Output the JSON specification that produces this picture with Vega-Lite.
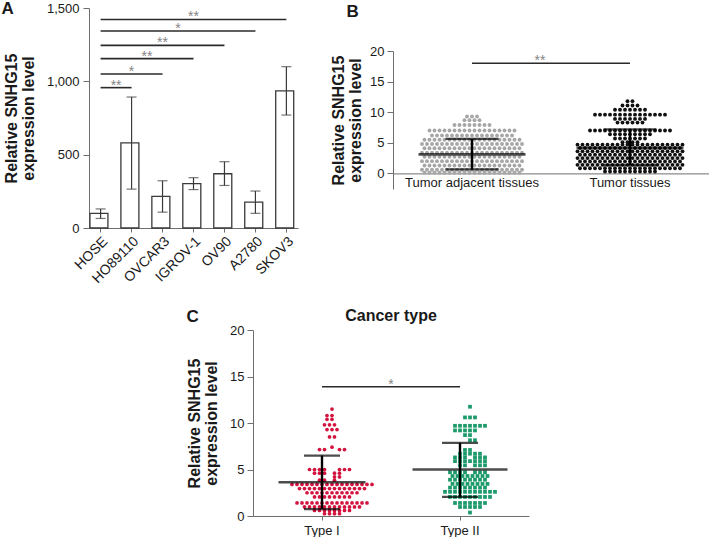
{
"$schema": "https://vega.github.io/schema/vega-lite/v6.json",
"background": "white",
"padding": {"left": 1, "top": 0, "right": 0, "bottom": 0},
"config": {
 "font": "Liberation Sans",
 "view": {"stroke": null},
 "axis": {"grid": false, "domainColor": "#6e6e6e", "tickColor": "#6e6e6e", "labelColor": "#1a1a1a", "labelFontSize": 13, "titleFontSize": 16, "titleFontWeight": "bold", "titleColor": "#1a1a1a", "tickSize": 6, "labelPadding": 3, "titleLineHeight": 17},
 "title": {"fontSize": 17, "fontWeight": "bold", "color": "#1a1a1a"}
},
"resolve": {"scale": {"color": "independent", "shape": "independent"}},
"datasets": {
 "bars": [
  {"c":"HOSE","m":100,"lo":65,"hi":130},
  {"c":"HO89110","m":580,"lo":265,"hi":893},
  {"c":"OVCAR3","m":215,"lo":108,"hi":322},
  {"c":"IGROV-1","m":303,"lo":262,"hi":343},
  {"c":"OV90","m":370,"lo":290,"hi":452},
  {"c":"A2780","m":177,"lo":100,"hi":252},
  {"c":"SKOV3","m":935,"lo":770,"hi":1100}
 ],
 "sigA": [
  {"a":"HOSE","b":"HO89110","y":957,"s":"**","m":"HOSE","h":1},
  {"a":"HOSE","b":"OVCAR3","y":1050,"s":"*","m":"HO89110","h":0},
  {"a":"HOSE","b":"IGROV-1","y":1155,"s":"**","m":"HO89110","h":1},
  {"a":"HOSE","b":"OV90","y":1245,"s":"**","m":"OVCAR3","h":0},
  {"a":"HOSE","b":"A2780","y":1343,"s":"*","m":"OVCAR3","h":1},
  {"a":"HOSE","b":"SKOV3","y":1422,"s":"**","m":"IGROV-1","h":0}
 ],
 "statB": [
  {"g":"n","m":3.1,"lo":0.65,"hi":5.65},
  {"g":"t","m":4.15,"lo":1.35,"hi":7.2}
 ],
 "sigB": [{"a":"n","b":"t","y":18,"s":"**"}],
 "statC": [
  {"g":"I","m":3.63,"lo":0.75,"hi":6.5},
  {"g":"II","m":5.0,"lo":2.05,"hi":7.87}
 ],
 "sigC": [{"a":"I","b":"II","y":13.9,"s":"*"}],
 "ptsB": [
  {"g":"n","y":9.3,"k":-1},{"g":"n","y":9.3,"k":0},{"g":"n","y":9.3,"k":1},
  {"g":"n","y":8.7,"k":-1.5},{"g":"n","y":8.7,"k":-0.5},{"g":"n","y":8.7,"k":0.5},{"g":"n","y":8.7,"k":1.5},
  {"g":"n","y":7.9,"k":-3.5},{"g":"n","y":7.9,"k":-2.5},{"g":"n","y":7.9,"k":-1.5},{"g":"n","y":7.9,"k":-0.5},{"g":"n","y":7.9,"k":0.5},{"g":"n","y":7.9,"k":1.5},{"g":"n","y":7.9,"k":2.5},{"g":"n","y":7.9,"k":3.5},
  {"g":"n","y":7.0,"k":-8.5},{"g":"n","y":7.0,"k":-7.5},{"g":"n","y":7.0,"k":-6.5},{"g":"n","y":7.0,"k":-5.5},{"g":"n","y":7.0,"k":-4.5},{"g":"n","y":7.0,"k":-3.5},{"g":"n","y":7.0,"k":-2.5},{"g":"n","y":7.0,"k":-1.5},{"g":"n","y":7.0,"k":-0.5},{"g":"n","y":7.0,"k":0.5},{"g":"n","y":7.0,"k":1.5},{"g":"n","y":7.0,"k":2.5},{"g":"n","y":7.0,"k":3.5},{"g":"n","y":7.0,"k":4.5},{"g":"n","y":7.0,"k":5.5},{"g":"n","y":7.0,"k":6.5},{"g":"n","y":7.0,"k":7.5},{"g":"n","y":7.0,"k":8.5},
  {"g":"n","y":6.2,"k":-8},{"g":"n","y":6.2,"k":-7},{"g":"n","y":6.2,"k":-6},{"g":"n","y":6.2,"k":-5},{"g":"n","y":6.2,"k":-4},{"g":"n","y":6.2,"k":-3},{"g":"n","y":6.2,"k":-2},{"g":"n","y":6.2,"k":-1},{"g":"n","y":6.2,"k":0},{"g":"n","y":6.2,"k":1},{"g":"n","y":6.2,"k":2},{"g":"n","y":6.2,"k":3},{"g":"n","y":6.2,"k":4},{"g":"n","y":6.2,"k":5},{"g":"n","y":6.2,"k":6},{"g":"n","y":6.2,"k":7},{"g":"n","y":6.2,"k":8},
  {"g":"n","y":5.5,"k":-9.5},{"g":"n","y":5.5,"k":-8.5},{"g":"n","y":5.5,"k":-7.5},{"g":"n","y":5.5,"k":-6.5},{"g":"n","y":5.5,"k":-5.5},{"g":"n","y":5.5,"k":-4.5},{"g":"n","y":5.5,"k":-3.5},{"g":"n","y":5.5,"k":-2.5},{"g":"n","y":5.5,"k":-1.5},{"g":"n","y":5.5,"k":-0.5},{"g":"n","y":5.5,"k":0.5},{"g":"n","y":5.5,"k":1.5},{"g":"n","y":5.5,"k":2.5},{"g":"n","y":5.5,"k":3.5},{"g":"n","y":5.5,"k":4.5},{"g":"n","y":5.5,"k":5.5},{"g":"n","y":5.5,"k":6.5},{"g":"n","y":5.5,"k":7.5},{"g":"n","y":5.5,"k":8.5},{"g":"n","y":5.5,"k":9.5},
  {"g":"n","y":4.8,"k":-10},{"g":"n","y":4.8,"k":-9},{"g":"n","y":4.8,"k":-8},{"g":"n","y":4.8,"k":-7},{"g":"n","y":4.8,"k":-6},{"g":"n","y":4.8,"k":-5},{"g":"n","y":4.8,"k":-4},{"g":"n","y":4.8,"k":-3},{"g":"n","y":4.8,"k":-2},{"g":"n","y":4.8,"k":-1},{"g":"n","y":4.8,"k":0},{"g":"n","y":4.8,"k":1},{"g":"n","y":4.8,"k":2},{"g":"n","y":4.8,"k":3},{"g":"n","y":4.8,"k":4},{"g":"n","y":4.8,"k":5},{"g":"n","y":4.8,"k":6},{"g":"n","y":4.8,"k":7},{"g":"n","y":4.8,"k":8},{"g":"n","y":4.8,"k":9},{"g":"n","y":4.8,"k":10},
  {"g":"n","y":4.1,"k":-9.5},{"g":"n","y":4.1,"k":-8.5},{"g":"n","y":4.1,"k":-7.5},{"g":"n","y":4.1,"k":-6.5},{"g":"n","y":4.1,"k":-5.5},{"g":"n","y":4.1,"k":-4.5},{"g":"n","y":4.1,"k":-3.5},{"g":"n","y":4.1,"k":-2.5},{"g":"n","y":4.1,"k":-1.5},{"g":"n","y":4.1,"k":-0.5},{"g":"n","y":4.1,"k":0.5},{"g":"n","y":4.1,"k":1.5},{"g":"n","y":4.1,"k":2.5},{"g":"n","y":4.1,"k":3.5},{"g":"n","y":4.1,"k":4.5},{"g":"n","y":4.1,"k":5.5},{"g":"n","y":4.1,"k":6.5},{"g":"n","y":4.1,"k":7.5},{"g":"n","y":4.1,"k":8.5},{"g":"n","y":4.1,"k":9.5},
  {"g":"n","y":3.4,"k":-10},{"g":"n","y":3.4,"k":-9},{"g":"n","y":3.4,"k":-8},{"g":"n","y":3.4,"k":-7},{"g":"n","y":3.4,"k":-6},{"g":"n","y":3.4,"k":-5},{"g":"n","y":3.4,"k":-4},{"g":"n","y":3.4,"k":-3},{"g":"n","y":3.4,"k":-2},{"g":"n","y":3.4,"k":-1},{"g":"n","y":3.4,"k":0},{"g":"n","y":3.4,"k":1},{"g":"n","y":3.4,"k":2},{"g":"n","y":3.4,"k":3},{"g":"n","y":3.4,"k":4},{"g":"n","y":3.4,"k":5},{"g":"n","y":3.4,"k":6},{"g":"n","y":3.4,"k":7},{"g":"n","y":3.4,"k":8},{"g":"n","y":3.4,"k":9},{"g":"n","y":3.4,"k":10},
  {"g":"n","y":2.7,"k":-9.5},{"g":"n","y":2.7,"k":-8.5},{"g":"n","y":2.7,"k":-7.5},{"g":"n","y":2.7,"k":-6.5},{"g":"n","y":2.7,"k":-5.5},{"g":"n","y":2.7,"k":-4.5},{"g":"n","y":2.7,"k":-3.5},{"g":"n","y":2.7,"k":-2.5},{"g":"n","y":2.7,"k":-1.5},{"g":"n","y":2.7,"k":-0.5},{"g":"n","y":2.7,"k":0.5},{"g":"n","y":2.7,"k":1.5},{"g":"n","y":2.7,"k":2.5},{"g":"n","y":2.7,"k":3.5},{"g":"n","y":2.7,"k":4.5},{"g":"n","y":2.7,"k":5.5},{"g":"n","y":2.7,"k":6.5},{"g":"n","y":2.7,"k":7.5},{"g":"n","y":2.7,"k":8.5},{"g":"n","y":2.7,"k":9.5},
  {"g":"n","y":2.0,"k":-10},{"g":"n","y":2.0,"k":-9},{"g":"n","y":2.0,"k":-8},{"g":"n","y":2.0,"k":-7},{"g":"n","y":2.0,"k":-6},{"g":"n","y":2.0,"k":-5},{"g":"n","y":2.0,"k":-4},{"g":"n","y":2.0,"k":-3},{"g":"n","y":2.0,"k":-2},{"g":"n","y":2.0,"k":-1},{"g":"n","y":2.0,"k":0},{"g":"n","y":2.0,"k":1},{"g":"n","y":2.0,"k":2},{"g":"n","y":2.0,"k":3},{"g":"n","y":2.0,"k":4},{"g":"n","y":2.0,"k":5},{"g":"n","y":2.0,"k":6},{"g":"n","y":2.0,"k":7},{"g":"n","y":2.0,"k":8},{"g":"n","y":2.0,"k":9},{"g":"n","y":2.0,"k":10},
  {"g":"n","y":1.3,"k":-9.5},{"g":"n","y":1.3,"k":-8.5},{"g":"n","y":1.3,"k":-7.5},{"g":"n","y":1.3,"k":-6.5},{"g":"n","y":1.3,"k":-5.5},{"g":"n","y":1.3,"k":-4.5},{"g":"n","y":1.3,"k":-3.5},{"g":"n","y":1.3,"k":-2.5},{"g":"n","y":1.3,"k":-1.5},{"g":"n","y":1.3,"k":-0.5},{"g":"n","y":1.3,"k":0.5},{"g":"n","y":1.3,"k":1.5},{"g":"n","y":1.3,"k":2.5},{"g":"n","y":1.3,"k":3.5},{"g":"n","y":1.3,"k":4.5},{"g":"n","y":1.3,"k":5.5},{"g":"n","y":1.3,"k":6.5},{"g":"n","y":1.3,"k":7.5},{"g":"n","y":1.3,"k":8.5},{"g":"n","y":1.3,"k":9.5},
  {"g":"n","y":0.6,"k":-10},{"g":"n","y":0.6,"k":-9},{"g":"n","y":0.6,"k":-8},{"g":"n","y":0.6,"k":-7},{"g":"n","y":0.6,"k":-6},{"g":"n","y":0.6,"k":-5},{"g":"n","y":0.6,"k":-4},{"g":"n","y":0.6,"k":-3},{"g":"n","y":0.6,"k":-2},{"g":"n","y":0.6,"k":-1},{"g":"n","y":0.6,"k":0},{"g":"n","y":0.6,"k":1},{"g":"n","y":0.6,"k":2},{"g":"n","y":0.6,"k":3},{"g":"n","y":0.6,"k":4},{"g":"n","y":0.6,"k":5},{"g":"n","y":0.6,"k":6},{"g":"n","y":0.6,"k":7},{"g":"n","y":0.6,"k":8},{"g":"n","y":0.6,"k":9},{"g":"n","y":0.6,"k":10},
  {"g":"n","y":0.1,"k":-9.5},{"g":"n","y":0.1,"k":-8.5},{"g":"n","y":0.1,"k":-7.5},{"g":"n","y":0.1,"k":-6.5},{"g":"n","y":0.1,"k":-5.5},{"g":"n","y":0.1,"k":-4.5},{"g":"n","y":0.1,"k":-3.5},{"g":"n","y":0.1,"k":-2.5},{"g":"n","y":0.1,"k":-1.5},{"g":"n","y":0.1,"k":-0.5},{"g":"n","y":0.1,"k":0.5},{"g":"n","y":0.1,"k":1.5},{"g":"n","y":0.1,"k":2.5},{"g":"n","y":0.1,"k":3.5},{"g":"n","y":0.1,"k":4.5},{"g":"n","y":0.1,"k":5.5},{"g":"n","y":0.1,"k":6.5},{"g":"n","y":0.1,"k":7.5},{"g":"n","y":0.1,"k":8.5},{"g":"n","y":0.1,"k":9.5},
  {"g":"t","y":11.8,"k":-0.5},{"g":"t","y":11.8,"k":0.5},
  {"g":"t","y":11.1,"k":-1.5},{"g":"t","y":11.1,"k":-0.5},{"g":"t","y":11.1,"k":0.5},{"g":"t","y":11.1,"k":1.5},
  {"g":"t","y":10.4,"k":-3},{"g":"t","y":10.4,"k":-2},{"g":"t","y":10.4,"k":-1},{"g":"t","y":10.4,"k":0},{"g":"t","y":10.4,"k":1},{"g":"t","y":10.4,"k":2},{"g":"t","y":10.4,"k":3},
  {"g":"t","y":9.6,"k":-7},{"g":"t","y":9.6,"k":-6},{"g":"t","y":9.6,"k":-5},{"g":"t","y":9.6,"k":-4},{"g":"t","y":9.6,"k":-3},{"g":"t","y":9.6,"k":-2},{"g":"t","y":9.6,"k":-1},{"g":"t","y":9.6,"k":0},{"g":"t","y":9.6,"k":1},{"g":"t","y":9.6,"k":2},{"g":"t","y":9.6,"k":3},{"g":"t","y":9.6,"k":4},{"g":"t","y":9.6,"k":5},{"g":"t","y":9.6,"k":6},{"g":"t","y":9.6,"k":7},
  {"g":"t","y":8.9,"k":-3},{"g":"t","y":8.9,"k":-2},{"g":"t","y":8.9,"k":-1},{"g":"t","y":8.9,"k":0},{"g":"t","y":8.9,"k":1},{"g":"t","y":8.9,"k":2},{"g":"t","y":8.9,"k":3},
  {"g":"t","y":8.3,"k":-2.5},{"g":"t","y":8.3,"k":-1.5},{"g":"t","y":8.3,"k":-0.5},{"g":"t","y":8.3,"k":0.5},{"g":"t","y":8.3,"k":1.5},{"g":"t","y":8.3,"k":2.5},
  {"g":"t","y":7.0,"k":-8},{"g":"t","y":7.0,"k":-7},{"g":"t","y":7.0,"k":-6},{"g":"t","y":7.0,"k":-5},{"g":"t","y":7.0,"k":-4},{"g":"t","y":7.0,"k":-3},{"g":"t","y":7.0,"k":-2},{"g":"t","y":7.0,"k":-1},{"g":"t","y":7.0,"k":0},{"g":"t","y":7.0,"k":1},{"g":"t","y":7.0,"k":2},{"g":"t","y":7.0,"k":3},{"g":"t","y":7.0,"k":4},{"g":"t","y":7.0,"k":5},{"g":"t","y":7.0,"k":6},{"g":"t","y":7.0,"k":7},{"g":"t","y":7.0,"k":8},
  {"g":"t","y":6.4,"k":-4},{"g":"t","y":6.4,"k":-3},{"g":"t","y":6.4,"k":-2},{"g":"t","y":6.4,"k":-1},{"g":"t","y":6.4,"k":0},{"g":"t","y":6.4,"k":1},{"g":"t","y":6.4,"k":2},{"g":"t","y":6.4,"k":3},{"g":"t","y":6.4,"k":4},
  {"g":"t","y":5.7,"k":-3},{"g":"t","y":5.7,"k":-2},{"g":"t","y":5.7,"k":-1},{"g":"t","y":5.7,"k":0},{"g":"t","y":5.7,"k":1},{"g":"t","y":5.7,"k":2},{"g":"t","y":5.7,"k":3},
  {"g":"t","y":5.1,"k":-1.5},{"g":"t","y":5.1,"k":-0.5},{"g":"t","y":5.1,"k":0.5},{"g":"t","y":5.1,"k":1.5},
  {"g":"t","y":4.7,"k":-10.5},{"g":"t","y":4.7,"k":-9.5},{"g":"t","y":4.7,"k":-8.5},{"g":"t","y":4.7,"k":-7.5},{"g":"t","y":4.7,"k":-6.5},{"g":"t","y":4.7,"k":-5.5},{"g":"t","y":4.7,"k":-4.5},{"g":"t","y":4.7,"k":-3.5},{"g":"t","y":4.7,"k":-2.5},{"g":"t","y":4.7,"k":-1.5},{"g":"t","y":4.7,"k":-0.5},{"g":"t","y":4.7,"k":0.5},{"g":"t","y":4.7,"k":1.5},{"g":"t","y":4.7,"k":2.5},{"g":"t","y":4.7,"k":3.5},{"g":"t","y":4.7,"k":4.5},{"g":"t","y":4.7,"k":5.5},{"g":"t","y":4.7,"k":6.5},{"g":"t","y":4.7,"k":7.5},{"g":"t","y":4.7,"k":8.5},{"g":"t","y":4.7,"k":9.5},{"g":"t","y":4.7,"k":10.5},
  {"g":"t","y":4.15,"k":-10},{"g":"t","y":4.15,"k":-9},{"g":"t","y":4.15,"k":-8},{"g":"t","y":4.15,"k":-7},{"g":"t","y":4.15,"k":-6},{"g":"t","y":4.15,"k":-5},{"g":"t","y":4.15,"k":-4},{"g":"t","y":4.15,"k":-3},{"g":"t","y":4.15,"k":-2},{"g":"t","y":4.15,"k":-1},{"g":"t","y":4.15,"k":0},{"g":"t","y":4.15,"k":1},{"g":"t","y":4.15,"k":2},{"g":"t","y":4.15,"k":3},{"g":"t","y":4.15,"k":4},{"g":"t","y":4.15,"k":5},{"g":"t","y":4.15,"k":6},{"g":"t","y":4.15,"k":7},{"g":"t","y":4.15,"k":8},{"g":"t","y":4.15,"k":9},{"g":"t","y":4.15,"k":10},
  {"g":"t","y":3.6,"k":-10.5},{"g":"t","y":3.6,"k":-9.5},{"g":"t","y":3.6,"k":-8.5},{"g":"t","y":3.6,"k":-7.5},{"g":"t","y":3.6,"k":-6.5},{"g":"t","y":3.6,"k":-5.5},{"g":"t","y":3.6,"k":-4.5},{"g":"t","y":3.6,"k":-3.5},{"g":"t","y":3.6,"k":-2.5},{"g":"t","y":3.6,"k":-1.5},{"g":"t","y":3.6,"k":-0.5},{"g":"t","y":3.6,"k":0.5},{"g":"t","y":3.6,"k":1.5},{"g":"t","y":3.6,"k":2.5},{"g":"t","y":3.6,"k":3.5},{"g":"t","y":3.6,"k":4.5},{"g":"t","y":3.6,"k":5.5},{"g":"t","y":3.6,"k":6.5},{"g":"t","y":3.6,"k":7.5},{"g":"t","y":3.6,"k":8.5},{"g":"t","y":3.6,"k":9.5},{"g":"t","y":3.6,"k":10.5},
  {"g":"t","y":3.05,"k":-10},{"g":"t","y":3.05,"k":-9},{"g":"t","y":3.05,"k":-8},{"g":"t","y":3.05,"k":-7},{"g":"t","y":3.05,"k":-6},{"g":"t","y":3.05,"k":-5},{"g":"t","y":3.05,"k":-4},{"g":"t","y":3.05,"k":-3},{"g":"t","y":3.05,"k":-2},{"g":"t","y":3.05,"k":-1},{"g":"t","y":3.05,"k":0},{"g":"t","y":3.05,"k":1},{"g":"t","y":3.05,"k":2},{"g":"t","y":3.05,"k":3},{"g":"t","y":3.05,"k":4},{"g":"t","y":3.05,"k":5},{"g":"t","y":3.05,"k":6},{"g":"t","y":3.05,"k":7},{"g":"t","y":3.05,"k":8},{"g":"t","y":3.05,"k":9},{"g":"t","y":3.05,"k":10},
  {"g":"t","y":2.5,"k":-10.5},{"g":"t","y":2.5,"k":-9.5},{"g":"t","y":2.5,"k":-8.5},{"g":"t","y":2.5,"k":-7.5},{"g":"t","y":2.5,"k":-6.5},{"g":"t","y":2.5,"k":-5.5},{"g":"t","y":2.5,"k":-4.5},{"g":"t","y":2.5,"k":-3.5},{"g":"t","y":2.5,"k":-2.5},{"g":"t","y":2.5,"k":-1.5},{"g":"t","y":2.5,"k":-0.5},{"g":"t","y":2.5,"k":0.5},{"g":"t","y":2.5,"k":1.5},{"g":"t","y":2.5,"k":2.5},{"g":"t","y":2.5,"k":3.5},{"g":"t","y":2.5,"k":4.5},{"g":"t","y":2.5,"k":5.5},{"g":"t","y":2.5,"k":6.5},{"g":"t","y":2.5,"k":7.5},{"g":"t","y":2.5,"k":8.5},{"g":"t","y":2.5,"k":9.5},{"g":"t","y":2.5,"k":10.5},
  {"g":"t","y":1.95,"k":-10},{"g":"t","y":1.95,"k":-9},{"g":"t","y":1.95,"k":-8},{"g":"t","y":1.95,"k":-7},{"g":"t","y":1.95,"k":-6},{"g":"t","y":1.95,"k":-5},{"g":"t","y":1.95,"k":-4},{"g":"t","y":1.95,"k":-3},{"g":"t","y":1.95,"k":-2},{"g":"t","y":1.95,"k":-1},{"g":"t","y":1.95,"k":0},{"g":"t","y":1.95,"k":1},{"g":"t","y":1.95,"k":2},{"g":"t","y":1.95,"k":3},{"g":"t","y":1.95,"k":4},{"g":"t","y":1.95,"k":5},{"g":"t","y":1.95,"k":6},{"g":"t","y":1.95,"k":7},{"g":"t","y":1.95,"k":8},{"g":"t","y":1.95,"k":9},{"g":"t","y":1.95,"k":10},
  {"g":"t","y":1.4,"k":-10.5},{"g":"t","y":1.4,"k":-9.5},{"g":"t","y":1.4,"k":-8.5},{"g":"t","y":1.4,"k":-7.5},{"g":"t","y":1.4,"k":-6.5},{"g":"t","y":1.4,"k":-5.5},{"g":"t","y":1.4,"k":-4.5},{"g":"t","y":1.4,"k":-3.5},{"g":"t","y":1.4,"k":-2.5},{"g":"t","y":1.4,"k":-1.5},{"g":"t","y":1.4,"k":-0.5},{"g":"t","y":1.4,"k":0.5},{"g":"t","y":1.4,"k":1.5},{"g":"t","y":1.4,"k":2.5},{"g":"t","y":1.4,"k":3.5},{"g":"t","y":1.4,"k":4.5},{"g":"t","y":1.4,"k":5.5},{"g":"t","y":1.4,"k":6.5},{"g":"t","y":1.4,"k":7.5},{"g":"t","y":1.4,"k":8.5},{"g":"t","y":1.4,"k":9.5},{"g":"t","y":1.4,"k":10.5},
  {"g":"t","y":0.85,"k":-10},{"g":"t","y":0.85,"k":-9},{"g":"t","y":0.85,"k":-8},{"g":"t","y":0.85,"k":-7},{"g":"t","y":0.85,"k":-6},{"g":"t","y":0.85,"k":-5},{"g":"t","y":0.85,"k":-4},{"g":"t","y":0.85,"k":-3},{"g":"t","y":0.85,"k":-2},{"g":"t","y":0.85,"k":-1},{"g":"t","y":0.85,"k":0},{"g":"t","y":0.85,"k":1},{"g":"t","y":0.85,"k":2},{"g":"t","y":0.85,"k":3},{"g":"t","y":0.85,"k":4},{"g":"t","y":0.85,"k":5},{"g":"t","y":0.85,"k":6},{"g":"t","y":0.85,"k":7},{"g":"t","y":0.85,"k":8},{"g":"t","y":0.85,"k":9},{"g":"t","y":0.85,"k":10},
  {"g":"t","y":0.3,"k":-5},{"g":"t","y":0.3,"k":-4},{"g":"t","y":0.3,"k":-3},{"g":"t","y":0.3,"k":-2},{"g":"t","y":0.3,"k":-1},{"g":"t","y":0.3,"k":0},{"g":"t","y":0.3,"k":1},{"g":"t","y":0.3,"k":2},{"g":"t","y":0.3,"k":3},{"g":"t","y":0.3,"k":4},{"g":"t","y":0.3,"k":5}
 ],
 "ptsC": [
  {"g":"I","y":11.5,"k":0},
  {"g":"I","y":10.8,"k":-1},{"g":"I","y":10.8,"k":0},
  {"g":"I","y":10.4,"k":-1},{"g":"I","y":10.4,"k":0},
  {"g":"I","y":9.8,"k":-1.5},{"g":"I","y":9.8,"k":-0.5},{"g":"I","y":9.8,"k":0.5},
  {"g":"I","y":9.3,"k":-1},{"g":"I","y":9.3,"k":0},{"g":"I","y":9.3,"k":1},
  {"g":"I","y":8.5,"k":-0.5},{"g":"I","y":8.5,"k":0.5},
  {"g":"I","y":7.4,"k":0},
  {"g":"I","y":7.15,"k":-2.5},{"g":"I","y":7.15,"k":-1.5},{"g":"I","y":7.15,"k":1.5},{"g":"I","y":7.15,"k":2.5},
  {"g":"I","y":5.0,"k":-4.5},{"g":"I","y":5.0,"k":-3.5},{"g":"I","y":5.0,"k":-2.5},{"g":"I","y":5.0,"k":-1.5},{"g":"I","y":5.0,"k":1.5},{"g":"I","y":5.0,"k":2.5},{"g":"I","y":5.0,"k":3.5},
  {"g":"I","y":4.6,"k":-3.5},{"g":"I","y":4.6,"k":-2.5},{"g":"I","y":4.6,"k":-1.5},{"g":"I","y":4.6,"k":0.5},{"g":"I","y":4.6,"k":1.5},
  {"g":"I","y":4.2,"k":0.5},{"g":"I","y":4.2,"k":1.5},
  {"g":"I","y":3.85,"k":-2.5},{"g":"I","y":3.85,"k":-1.5},{"g":"I","y":3.85,"k":0.5},
  {"g":"I","y":3.4,"k":-8},{"g":"I","y":3.4,"k":-7},{"g":"I","y":3.4,"k":-6},{"g":"I","y":3.4,"k":-5},{"g":"I","y":3.4,"k":-4},{"g":"I","y":3.4,"k":-3},{"g":"I","y":3.4,"k":-2},{"g":"I","y":3.4,"k":-1},{"g":"I","y":3.4,"k":0},{"g":"I","y":3.4,"k":1},{"g":"I","y":3.4,"k":2},{"g":"I","y":3.4,"k":3},{"g":"I","y":3.4,"k":4},{"g":"I","y":3.4,"k":5},{"g":"I","y":3.4,"k":6},{"g":"I","y":3.4,"k":7},{"g":"I","y":3.4,"k":8},
  {"g":"I","y":2.95,"k":-6.5},{"g":"I","y":2.95,"k":-5.5},{"g":"I","y":2.95,"k":-4.5},{"g":"I","y":2.95,"k":-3.5},{"g":"I","y":2.95,"k":-2.5},{"g":"I","y":2.95,"k":-1.5},{"g":"I","y":2.95,"k":-0.5},{"g":"I","y":2.95,"k":0.5},{"g":"I","y":2.95,"k":1.5},{"g":"I","y":2.95,"k":2.5},{"g":"I","y":2.95,"k":3.5},{"g":"I","y":2.95,"k":4.5},{"g":"I","y":2.95,"k":5.5},{"g":"I","y":2.95,"k":6.5},
  {"g":"I","y":2.5,"k":-5},{"g":"I","y":2.5,"k":-4},{"g":"I","y":2.5,"k":-3},{"g":"I","y":2.5,"k":-2},{"g":"I","y":2.5,"k":-1},{"g":"I","y":2.5,"k":0},{"g":"I","y":2.5,"k":1},{"g":"I","y":2.5,"k":2},{"g":"I","y":2.5,"k":3},{"g":"I","y":2.5,"k":4},{"g":"I","y":2.5,"k":5},
  {"g":"I","y":2.05,"k":-3.5},{"g":"I","y":2.05,"k":-2.5},{"g":"I","y":2.05,"k":-1.5},{"g":"I","y":2.05,"k":-0.5},{"g":"I","y":2.05,"k":0.5},{"g":"I","y":2.05,"k":1.5},{"g":"I","y":2.05,"k":2.5},{"g":"I","y":2.05,"k":3.5},
  {"g":"I","y":1.4,"k":-7},{"g":"I","y":1.4,"k":-6},{"g":"I","y":1.4,"k":-5},{"g":"I","y":1.4,"k":-4},{"g":"I","y":1.4,"k":-3},{"g":"I","y":1.4,"k":-2},{"g":"I","y":1.4,"k":-1},{"g":"I","y":1.4,"k":0},{"g":"I","y":1.4,"k":1},{"g":"I","y":1.4,"k":2},{"g":"I","y":1.4,"k":3},{"g":"I","y":1.4,"k":4},{"g":"I","y":1.4,"k":5},{"g":"I","y":1.4,"k":6},{"g":"I","y":1.4,"k":7},
  {"g":"I","y":0.97,"k":-5.5},{"g":"I","y":0.97,"k":-4.5},{"g":"I","y":0.97,"k":-3.5},{"g":"I","y":0.97,"k":-2.5},{"g":"I","y":0.97,"k":-1.5},{"g":"I","y":0.97,"k":-0.5},{"g":"I","y":0.97,"k":0.5},{"g":"I","y":0.97,"k":1.5},{"g":"I","y":0.97,"k":2.5},{"g":"I","y":0.97,"k":3.5},{"g":"I","y":0.97,"k":4.5},{"g":"I","y":0.97,"k":5.5},
  {"g":"I","y":0.6,"k":-3.5},{"g":"I","y":0.6,"k":-2.5},{"g":"I","y":0.6,"k":-1.5},{"g":"I","y":0.6,"k":-0.5},{"g":"I","y":0.6,"k":0.5},{"g":"I","y":0.6,"k":1.5},{"g":"I","y":0.6,"k":2.5},{"g":"I","y":0.6,"k":3.5},
  {"g":"I","y":0.25,"k":-1.5},{"g":"I","y":0.25,"k":-0.5},{"g":"I","y":0.25,"k":0.5},{"g":"I","y":0.25,"k":1.5},
  {"g":"II","y":11.75,"k":0},
  {"g":"II","y":10.6,"k":-1},{"g":"II","y":10.6,"k":0},{"g":"II","y":10.6,"k":1},
  {"g":"II","y":9.7,"k":-3},{"g":"II","y":9.7,"k":-2},{"g":"II","y":9.7,"k":-1},{"g":"II","y":9.7,"k":0},{"g":"II","y":9.7,"k":1},{"g":"II","y":9.7,"k":2},{"g":"II","y":9.7,"k":3},
  {"g":"II","y":9.2,"k":-3},{"g":"II","y":9.2,"k":-2},{"g":"II","y":9.2,"k":-1},{"g":"II","y":9.2,"k":0},{"g":"II","y":9.2,"k":1},
  {"g":"II","y":8.7,"k":-1},{"g":"II","y":8.7,"k":0},
  {"g":"II","y":8.15,"k":0},{"g":"II","y":8.15,"k":1},
  {"g":"II","y":7.1,"k":-1},{"g":"II","y":7.1,"k":0},
  {"g":"II","y":6.7,"k":-2},{"g":"II","y":6.7,"k":-1},{"g":"II","y":6.7,"k":0},{"g":"II","y":6.7,"k":1},{"g":"II","y":6.7,"k":2},
  {"g":"II","y":6.3,"k":-3},{"g":"II","y":6.3,"k":-2},{"g":"II","y":6.3,"k":-1},{"g":"II","y":6.3,"k":1},{"g":"II","y":6.3,"k":2},{"g":"II","y":6.3,"k":3},
  {"g":"II","y":5.9,"k":-3},{"g":"II","y":5.9,"k":-2},{"g":"II","y":5.9,"k":-1},{"g":"II","y":5.9,"k":0},{"g":"II","y":5.9,"k":1},{"g":"II","y":5.9,"k":2},{"g":"II","y":5.9,"k":3},
  {"g":"II","y":5.45,"k":-2},{"g":"II","y":5.45,"k":-1},{"g":"II","y":5.45,"k":1},{"g":"II","y":5.45,"k":2},{"g":"II","y":5.45,"k":3},
  {"g":"II","y":4.7,"k":-4},{"g":"II","y":4.7,"k":-3},{"g":"II","y":4.7,"k":-2},{"g":"II","y":4.7,"k":-1},{"g":"II","y":4.7,"k":1},{"g":"II","y":4.7,"k":2},{"g":"II","y":4.7,"k":3},
  {"g":"II","y":4.3,"k":-3.5},{"g":"II","y":4.3,"k":-2.5},{"g":"II","y":4.3,"k":-1.5},{"g":"II","y":4.3,"k":-0.5},{"g":"II","y":4.3,"k":0.5},{"g":"II","y":4.3,"k":1.5},{"g":"II","y":4.3,"k":2.5},{"g":"II","y":4.3,"k":3.5},
  {"g":"II","y":3.9,"k":-4},{"g":"II","y":3.9,"k":-3},{"g":"II","y":3.9,"k":-2},{"g":"II","y":3.9,"k":-1},{"g":"II","y":3.9,"k":0},{"g":"II","y":3.9,"k":1},{"g":"II","y":3.9,"k":2},{"g":"II","y":3.9,"k":3},
  {"g":"II","y":3.45,"k":-3.5},{"g":"II","y":3.45,"k":-2.5},{"g":"II","y":3.45,"k":-1.5},{"g":"II","y":3.45,"k":-0.5},{"g":"II","y":3.45,"k":0.5},{"g":"II","y":3.45,"k":1.5},{"g":"II","y":3.45,"k":2.5},{"g":"II","y":3.45,"k":3.5},
  {"g":"II","y":3.05,"k":-4},{"g":"II","y":3.05,"k":-3},{"g":"II","y":3.05,"k":-2},{"g":"II","y":3.05,"k":-1},{"g":"II","y":3.05,"k":0},{"g":"II","y":3.05,"k":1},{"g":"II","y":3.05,"k":2},{"g":"II","y":3.05,"k":3},
  {"g":"II","y":2.6,"k":-5},{"g":"II","y":2.6,"k":-4},{"g":"II","y":2.6,"k":-3},{"g":"II","y":2.6,"k":-2},{"g":"II","y":2.6,"k":-1},{"g":"II","y":2.6,"k":0},{"g":"II","y":2.6,"k":1},{"g":"II","y":2.6,"k":2},{"g":"II","y":2.6,"k":3},{"g":"II","y":2.6,"k":4},{"g":"II","y":2.6,"k":5},
  {"g":"II","y":2.05,"k":-4},{"g":"II","y":2.05,"k":-3},{"g":"II","y":2.05,"k":-2},{"g":"II","y":2.05,"k":-1},{"g":"II","y":2.05,"k":0},{"g":"II","y":2.05,"k":1},{"g":"II","y":2.05,"k":2},{"g":"II","y":2.05,"k":3},{"g":"II","y":2.05,"k":4},
  {"g":"II","y":1.4,"k":-3},{"g":"II","y":1.4,"k":-2},{"g":"II","y":1.4,"k":-1},{"g":"II","y":1.4,"k":0},{"g":"II","y":1.4,"k":1},{"g":"II","y":1.4,"k":2},{"g":"II","y":1.4,"k":3},
  {"g":"II","y":0.97,"k":-2},{"g":"II","y":0.97,"k":-1},{"g":"II","y":0.97,"k":0},{"g":"II","y":0.97,"k":1},{"g":"II","y":0.97,"k":2},
  {"g":"II","y":0.37,"k":0}
 ]
},
"vconcat": [
 {
  "hconcat": [
   {
    "width": 209, "height": 220,
    "title": {"text": "A", "anchor": "start", "frame": "bounds", "offset": -16, "dx": -2},
    "data": {"name": "bars"},
    "layer": [
     {"mark": {"type": "bar", "fill": "white", "stroke": "#3a3a3a", "strokeWidth": 1.3},
      "encoding": {
       "x": {"field": "c", "type": "nominal", "scale": {"domain": ["HOSE","HO89110","OVCAR3","IGROV-1","OV90","A2780","SKOV3"], "paddingInner": 0.31, "paddingOuter": 0.03}, "axis": {"title": null, "labelAngle": -45, "labelAlign": "right", "labelBaseline": "top", "tickSize": 4, "labelPadding": 2, "labelFontSize": 14}},
       "y": {"field": "m", "type": "quantitative", "scale": {"domain": [0, 1500], "nice": false}, "axis": {"values": [0, 500, 1000, 1500], "format": ",.0f", "title": ["Relative SNHG15", "expression level"], "titlePadding": 10, "labelPadding": 4}}
      }},
     {"mark": {"type": "rule", "color": "#3a3a3a", "strokeWidth": 1.2},
      "encoding": {"x": {"field": "c", "type": "nominal"}, "y": {"field": "lo", "type": "quantitative"}, "y2": {"field": "hi"}}},
     {"mark": {"type": "tick", "size": 10, "thickness": 1.2, "color": "#3a3a3a"},
      "encoding": {"x": {"field": "c", "type": "nominal"}, "y": {"field": "lo", "type": "quantitative"}}},
     {"mark": {"type": "tick", "size": 10, "thickness": 1.2, "color": "#3a3a3a"},
      "encoding": {"x": {"field": "c", "type": "nominal"}, "y": {"field": "hi", "type": "quantitative"}}},
     {"data": {"name": "sigA"}, "mark": {"type": "rule", "color": "#2a2a2a", "strokeWidth": 1.6},
      "encoding": {"x": {"field": "a", "type": "nominal"}, "x2": {"field": "b"}, "y": {"field": "y", "type": "quantitative"}}},
     {"data": {"name": "sigA"}, "transform": [{"filter": "datum.h == 0"}], "mark": {"type": "text", "color": "#858585", "fontSize": 14, "baseline": "alphabetic", "dy": 2},
      "encoding": {"x": {"field": "m", "type": "nominal"}, "y": {"field": "y", "type": "quantitative"}, "text": {"field": "s"}}},
     {"data": {"name": "sigA"}, "transform": [{"filter": "datum.h == 1"}], "mark": {"type": "text", "color": "#858585", "fontSize": 14, "baseline": "alphabetic", "dy": 2, "dx": 15.5},
      "encoding": {"x": {"field": "m", "type": "nominal"}, "y": {"field": "y", "type": "quantitative"}, "text": {"field": "s"}}}
    ]
   },
   {
    "width": 316, "height": 181,
    "title": {"text": "B", "anchor": "start", "frame": "bounds", "dx": 16, "offset": -12.5},
    "layer": [
     {"data": {"name": "ptsB"}, "mark": {"type": "point", "filled": true, "opacity": 1, "size": 15, "shape": "circle"},
      "encoding": {
       "x": {"field": "g", "type": "nominal", "scale": {"domain": ["n", "t"], "paddingInner": 0, "paddingOuter": 0}, "axis": {"title": null, "labelAngle": 0, "ticks": false, "offset": -15.6, "labelPadding": 3, "labelExpr": "datum.value == 'n' ? 'Tumor adjacent tissues' : 'Tumor tissues'"}},
       "xOffset": {"field": "k", "type": "quantitative", "scale": {"domain": [-10, 10], "range": [29, 129]}},
       "y": {"field": "y", "type": "quantitative", "scale": {"domain": [-2.55, 20], "nice": false, "zero": false, "range": [181, 43]}, "axis": {"values": [0, 5, 10, 15, 20], "title": ["Relative SNHG15", "expression level"], "titlePadding": 6}},
       "color": {"field": "g", "type": "nominal", "scale": {"domain": ["n", "t"], "range": ["#a6a6a6", "#111111"]}, "legend": null}
      }},
     {"data": {"name": "statB"}, "mark": {"type": "tick", "size": 107, "thickness": 2.6, "color": "#000000"},
      "encoding": {"x": {"field": "g", "type": "nominal"}, "y": {"field": "m", "type": "quantitative"}}},
     {"data": {"name": "statB"}, "mark": {"type": "tick", "size": 53, "thickness": 2.2, "color": "#000000"},
      "encoding": {"x": {"field": "g", "type": "nominal"}, "y": {"field": "lo", "type": "quantitative"}}},
     {"data": {"name": "statB"}, "mark": {"type": "tick", "size": 53, "thickness": 2.2, "color": "#000000"},
      "encoding": {"x": {"field": "g", "type": "nominal"}, "y": {"field": "hi", "type": "quantitative"}}},
     {"data": {"name": "statB"}, "mark": {"type": "rule", "strokeWidth": 2.4, "color": "#000000"},
      "encoding": {"x": {"field": "g", "type": "nominal"}, "y": {"field": "lo", "type": "quantitative"}, "y2": {"field": "hi"}}},
     {"data": {"name": "sigB"}, "mark": {"type": "rule", "color": "#2a2a2a", "strokeWidth": 1.6},
      "encoding": {"x": {"field": "a", "type": "nominal"}, "x2": {"field": "b"}, "y": {"field": "y", "type": "quantitative"}}},
     {"data": {"name": "sigB"}, "mark": {"type": "text", "color": "#858585", "fontSize": 14, "baseline": "alphabetic", "dy": 2, "dx": 68},
      "encoding": {"x": {"field": "a", "type": "nominal"}, "y": {"field": "y", "type": "quantitative"}, "text": {"field": "s"}}}
    ]
   }
  ],
  "spacing": 32
 },
 {
  "title": {"text": "C", "anchor": "start", "frame": "bounds", "dy": 22, "dx": 0},
  "vconcat": [
   {
    "width": 292, "height": 186,
    "title": {"text": "Cancer type", "fontSize": 16, "offset": 0, "frame": "group", "dx": -8},
    "layer": [
     {"data": {"name": "ptsC"}, "mark": {"type": "point", "filled": true, "opacity": 1, "size": 14},
      "encoding": {
       "x": {"field": "g", "type": "nominal", "scale": {"domain": ["I", "II"], "paddingInner": 0, "paddingOuter": 0, "range": [0, 276]}, "axis": {"title": null, "labelAngle": 0, "tickSize": 4, "labelPadding": 4, "labelExpr": "'Type ' + datum.value"}},
       "xOffset": {"field": "k", "type": "quantitative", "scale": {"domain": [-10, 10], "range": [16, 122]}},
       "y": {"field": "y", "type": "quantitative", "scale": {"domain": [0, 20], "nice": false}, "axis": {"values": [0, 5, 10, 15, 20], "title": ["Relative SNHG15", "expression level"], "titlePadding": 10}},
       "color": {"field": "g", "type": "nominal", "scale": {"domain": ["I", "II"], "range": ["#d3143f", "#1d9a6c"]}, "legend": null},
       "shape": {"field": "g", "type": "nominal", "scale": {"domain": ["I", "II"], "range": ["circle", "square"]}, "legend": null}
      }},
     {"data": {"name": "statC"}, "transform": [{"filter": "datum.g == 'I'"}], "mark": {"type": "tick", "size": 87, "thickness": 2.6, "color": "#000000"},
      "encoding": {"x": {"field": "g", "type": "nominal"}, "y": {"field": "m", "type": "quantitative"}}},
     {"data": {"name": "statC"}, "transform": [{"filter": "datum.g == 'II'"}], "mark": {"type": "tick", "size": 95, "thickness": 2.6, "color": "#000000"},
      "encoding": {"x": {"field": "g", "type": "nominal"}, "y": {"field": "m", "type": "quantitative"}}},
     {"data": {"name": "statC"}, "mark": {"type": "tick", "size": 36, "thickness": 2.2, "color": "#000000"},
      "encoding": {"x": {"field": "g", "type": "nominal"}, "y": {"field": "lo", "type": "quantitative"}}},
     {"data": {"name": "statC"}, "mark": {"type": "tick", "size": 36, "thickness": 2.2, "color": "#000000"},
      "encoding": {"x": {"field": "g", "type": "nominal"}, "y": {"field": "hi", "type": "quantitative"}}},
     {"data": {"name": "statC"}, "mark": {"type": "rule", "strokeWidth": 2.4, "color": "#000000"},
      "encoding": {"x": {"field": "g", "type": "nominal"}, "y": {"field": "lo", "type": "quantitative"}, "y2": {"field": "hi"}}},
     {"data": {"name": "sigC"}, "mark": {"type": "rule", "color": "#2a2a2a", "strokeWidth": 1.6},
      "encoding": {"x": {"field": "a", "type": "nominal"}, "x2": {"field": "b"}, "y": {"field": "y", "type": "quantitative"}}},
     {"data": {"name": "sigC"}, "mark": {"type": "text", "color": "#858585", "fontSize": 14, "baseline": "alphabetic", "dy": 2, "dx": 69},
      "encoding": {"x": {"field": "a", "type": "nominal"}, "y": {"field": "y", "type": "quantitative"}, "text": {"field": "s"}}}
    ]
   }
  ]
 }
],
"spacing": 22,
"center": true
}
